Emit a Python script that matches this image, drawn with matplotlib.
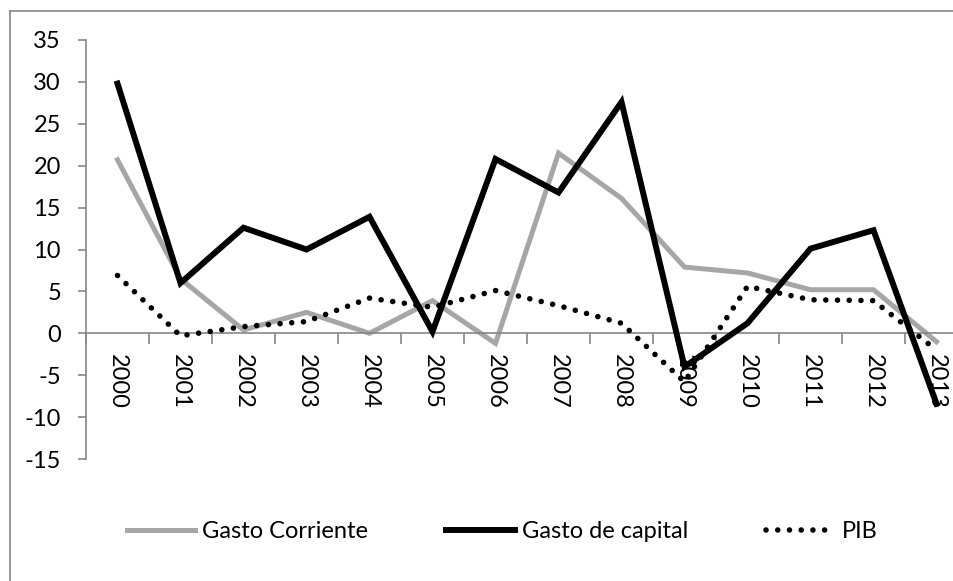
import matplotlib
matplotlib.use("Agg")
import matplotlib.pyplot as plt
from matplotlib.lines import Line2D

# ── Data ─────────────────────────────────────────────────────────────────────
years = [str(y) for y in range(2000, 2014)]
gasto_corriente = [20.7, 6.5, 0.4, 2.5, 0.0, 3.9, -1.2, 21.5, 16.1, 7.9, 7.2, 5.2, 5.2, -1.0]
gasto_capital = [29.8, 6.0, 12.6, 10.0, 13.9, 0.2, 20.8, 16.8, 27.6, -4.0, 1.2, 10.1, 12.3, -8.4]
pib = [6.9, -0.3, 0.8, 1.4, 4.2, 3.1, 5.1, 3.3, 1.2, -5.8, 5.6, 4.0, 3.9, -2.0]
y_ticks = list(range(-15, 40, 5))

GRAY_LINE = "#A6A6A6"
AXIS = "#868686"

plt.rcParams["font.family"] = ["Lato", "DejaVu Sans"]
FS = 17

W, H = 954, 581
fig = plt.figure(figsize=(W / 100, H / 100), dpi=100)

# plot area in pixel terms -> figure fractions
left, right, top, bottom = 86, 968, 40, 459
ax = fig.add_axes([left / W, 1 - bottom / H, (right - left) / W, (bottom - top) / H])

x = list(range(len(years)))
ax.plot(x, gasto_corriente, color=GRAY_LINE, lw=3.6, solid_joinstyle="miter",
        label="Gasto Corriente", zorder=2)
ax.plot(x, gasto_capital, color="black", lw=4.3, solid_joinstyle="miter",
        label="Gasto de capital", zorder=3)
ax.plot(x, pib, color="black", lw=4.0, linestyle=(0, (0.01, 2.1)),
        dash_capstyle="round", label="PIB", zorder=4)

ax.set_xlim(-0.5, len(years) - 0.5)
ax.set_ylim(-15, 35)

# category boundary ticks on the x axis (Excel style)
ax.set_xticks([i + 0.5 for i in range(-1, len(years))], minor=True)
ax.set_xticks(x)
ax.set_xticklabels(years)
ax.set_yticks(y_ticks)
ax.set_yticklabels([str(v) for v in y_ticks])

ax.tick_params(axis="x", which="major", length=0, pad=15, labelsize=FS, labelrotation=-90)
ax.tick_params(axis="x", which="minor", length=8, width=1.2, color=AXIS, direction="out")
ax.tick_params(axis="y", length=6, width=1.2, color=AXIS, direction="out", pad=12,
               labelsize=FS)
for lab in ax.get_xticklabels():
    lab.set_va("top")
    lab.set_ha("center")

for s in ["top", "right"]:
    ax.spines[s].set_visible(False)
ax.spines["bottom"].set_position(("data", 0))
for s in ["left", "bottom"]:
    ax.spines[s].set_color(AXIS)
    ax.spines[s].set_linewidth(1.2)
ax.set_facecolor("none")

# outer chart border (left and top edges visible)
fig.add_artist(Line2D([10 / W, 10 / W], [0, 1 - 11 / H], transform=fig.transFigure,
                      color=AXIS, lw=1.2))
fig.add_artist(Line2D([10 / W, 1], [1 - 11 / H, 1 - 11 / H], transform=fig.transFigure,
                      color=AXIS, lw=1.2))

handles, labels = ax.get_legend_handles_labels()
fig.legend(handles, labels, loc="center", bbox_to_anchor=(502 / W, 1 - 532 / H),
           ncol=3, frameon=False, fontsize=FS, handlelength=2.9, handletextpad=0.3,
           columnspacing=3.3)

fig.savefig("out.png", dpi=100, facecolor="white")
